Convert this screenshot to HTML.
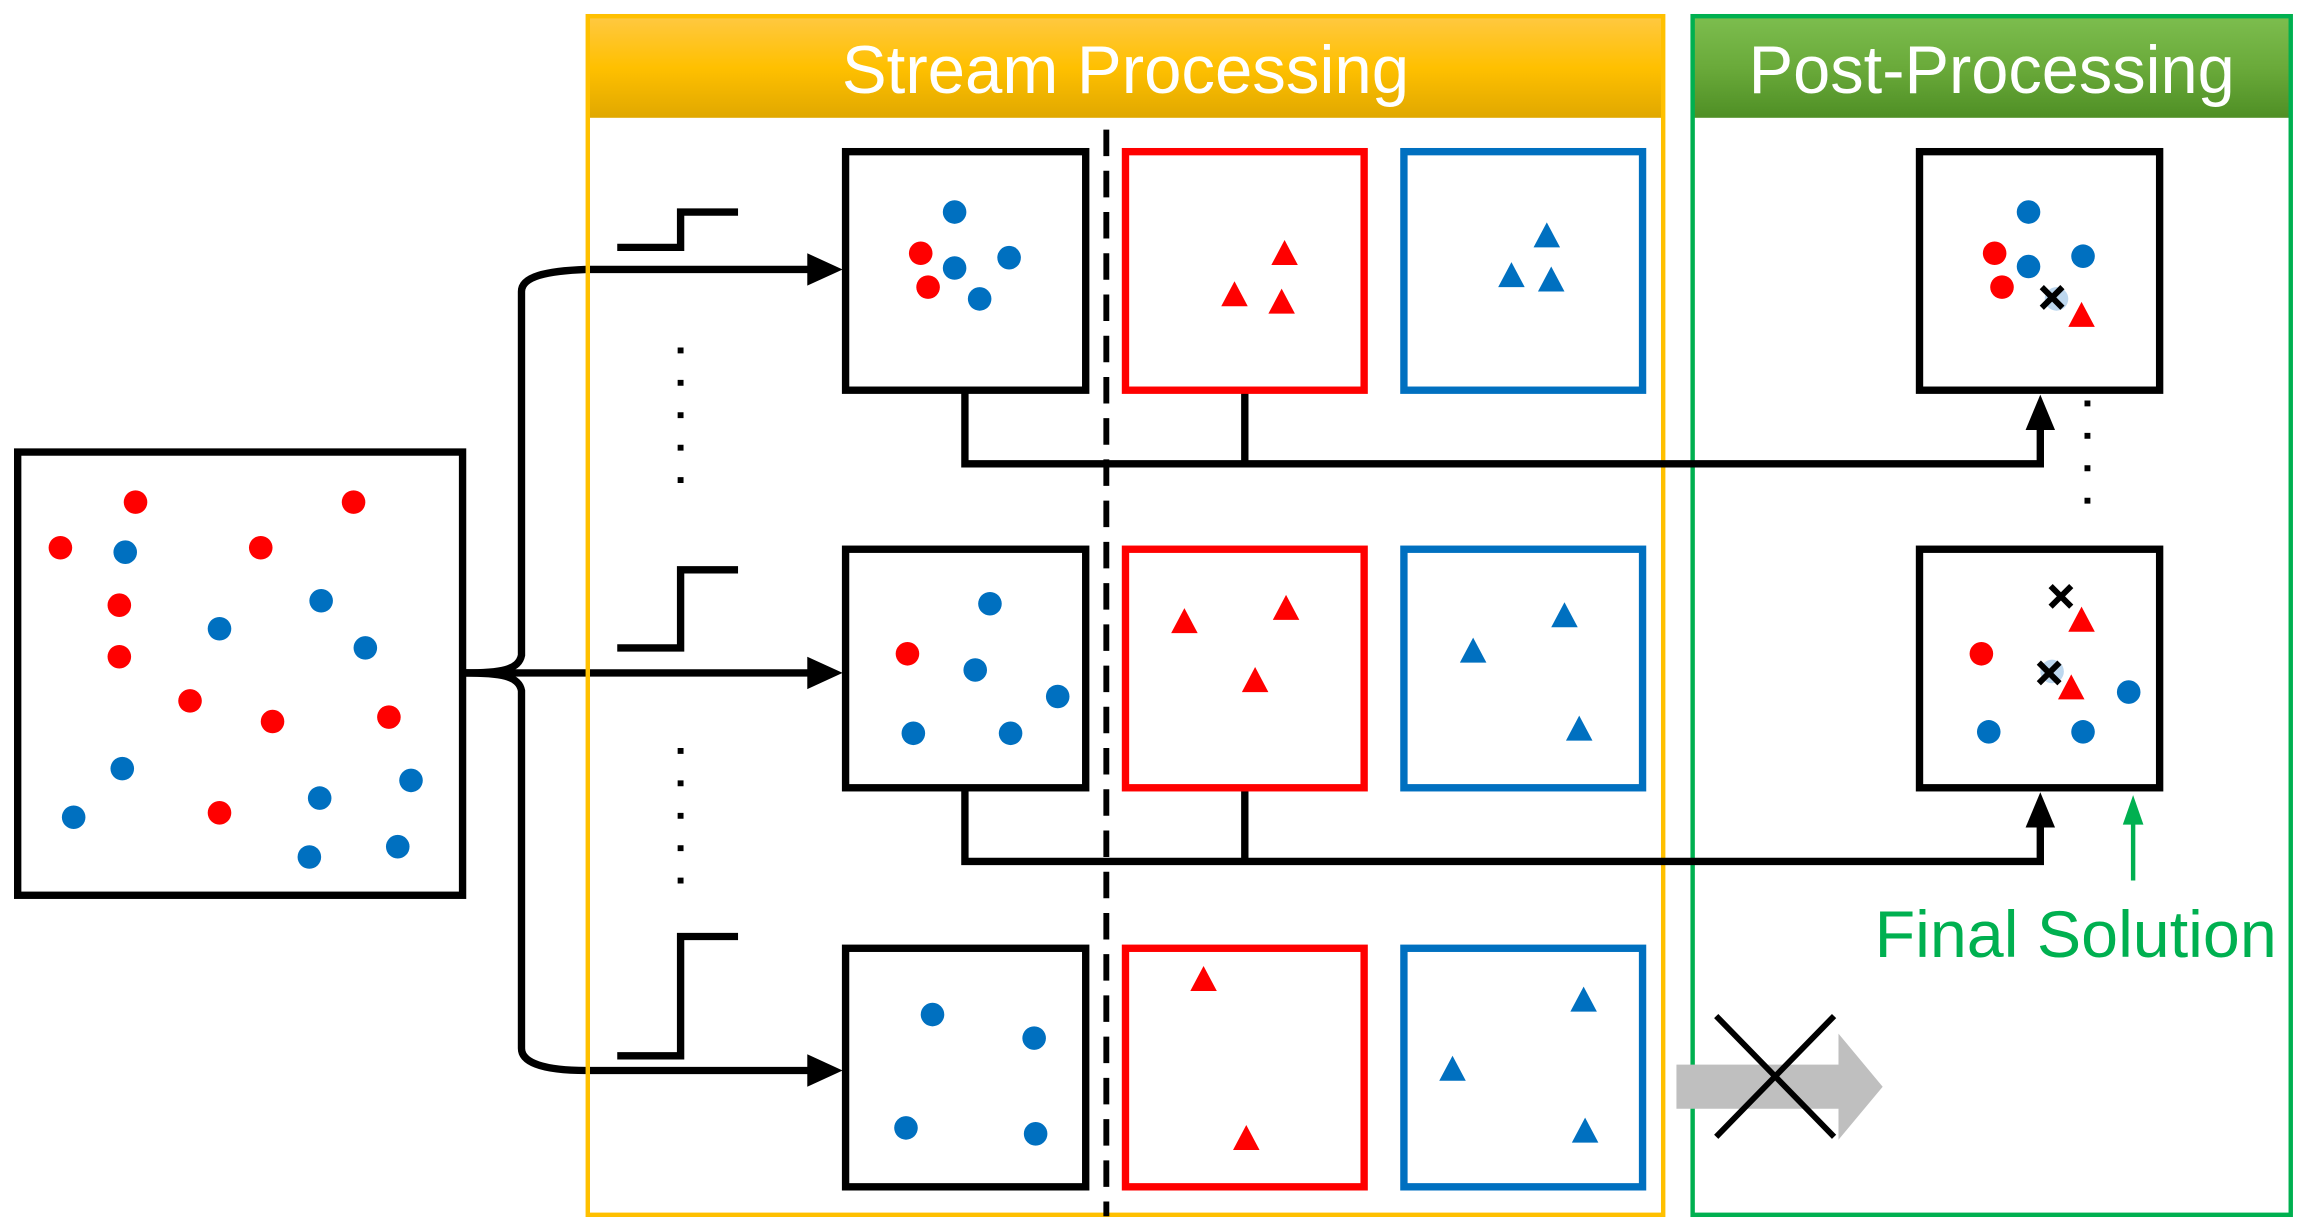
<!DOCTYPE html>
<html><head><meta charset="utf-8"><style>html,body{margin:0;padding:0;background:#fff}svg{display:block}</style></head><body>
<svg width="2304" height="1231" viewBox="0 0 1564 836" preserveAspectRatio="none" xmlns="http://www.w3.org/2000/svg">
<defs>
<linearGradient id="og" x1="0" y1="0" x2="0" y2="1"><stop offset="0" stop-color="#ffc840"/><stop offset="0.5" stop-color="#ffc000"/><stop offset="1" stop-color="#e0a800"/></linearGradient>
<linearGradient id="gg" x1="0" y1="0" x2="0" y2="1"><stop offset="0" stop-color="#7cbd4e"/><stop offset="0.5" stop-color="#6aaa3a"/><stop offset="1" stop-color="#4f8f25"/></linearGradient>
<g id="rt"><polygon points="0,-9 9,8 -9,8" fill="#ff0000"/></g>
<g id="bt"><polygon points="0,-9 9,8 -9,8" fill="#0070c0"/></g>
</defs>
<g fill="none" stroke="#000" stroke-width="5">
<rect x="12" y="307" width="302" height="301"/>
<path d="M315,457 C340,457 352,455 354,445 L354,198 C354,188 370,184 398,183 L555,183"/>
<path d="M315,457 L555,457"/>
<path d="M315,457 C340,457 352,459 354,469 L354,712 C354,722 370,727 398,727 L555,727"/>
</g>
<g fill="#000">
<polygon points="572,183 548,172 548,194"/>
<polygon points="572,457 548,446 548,468"/>
<polygon points="572,727 548,716 548,738"/>
</g>
<rect x="399" y="12" width="730" height="68" fill="url(#og)"/>
<rect x="1149" y="12" width="406" height="68" fill="url(#gg)"/>
<rect x="399" y="11" width="730" height="814" fill="none" stroke="#ffc000" stroke-width="3"/>
<rect x="1149" y="11" width="406" height="814" fill="none" stroke="#00b050" stroke-width="3"/>
<text x="764" y="63" font-family="Liberation Sans, sans-serif" font-size="46" fill="#fff" text-anchor="middle" textLength="385" lengthAdjust="spacingAndGlyphs">Stream Processing</text>
<text x="1352" y="63" font-family="Liberation Sans, sans-serif" font-size="46" fill="#fff" text-anchor="middle" textLength="330" lengthAdjust="spacingAndGlyphs">Post-Processing</text>
<g fill="none" stroke="#000" stroke-width="5">
<path d="M419,168 L462,168 L462,144 L501,144"/>
<path d="M419,440 L462,440 L462,387 L501,387"/>
<path d="M419,717 L462,717 L462,636 L501,636"/>
</g>
<g stroke="#000" stroke-width="4" stroke-dasharray="4,18">
<line x1="462" y1="236" x2="462" y2="330"/>
<line x1="462" y1="508" x2="462" y2="600"/>
<line x1="1417" y1="272" x2="1417" y2="360"/>
</g>
<line x1="751" y1="88" x2="751" y2="826" stroke="#000" stroke-width="4" stroke-dasharray="18,10"/>
<g fill="none" stroke="#000" stroke-width="5">
<path d="M655,266 L655,315 L1385,315 L1385,290"/>
<line x1="845" y1="266" x2="845" y2="315"/>
<path d="M655,536 L655,585 L1385,585 L1385,560"/>
<line x1="845" y1="536" x2="845" y2="585"/>
</g>
<polygon points="1385,268 1375,292 1395,292" fill="#000"/>
<polygon points="1385,538 1375,562 1395,562" fill="#000"/>
<g fill="none" stroke-width="5">
<rect x="574" y="103" width="163" height="162" stroke="#000"/>
<rect x="574" y="373" width="163" height="162" stroke="#000"/>
<rect x="574" y="644" width="163" height="162" stroke="#000"/>
<rect x="764" y="103" width="162" height="162" stroke="#ff0000"/>
<rect x="764" y="373" width="162" height="162" stroke="#ff0000"/>
<rect x="764" y="644" width="162" height="162" stroke="#ff0000"/>
<rect x="953" y="103" width="162" height="162" stroke="#0070c0"/>
<rect x="953" y="373" width="162" height="162" stroke="#0070c0"/>
<rect x="953" y="644" width="162" height="162" stroke="#0070c0"/>
<rect x="1303" y="103" width="163" height="162" stroke="#000"/>
<rect x="1303" y="373" width="163" height="162" stroke="#000"/>
</g>
<g fill="#ff0000">
<circle cx="92" cy="341" r="8"/><circle cx="240" cy="341" r="8"/><circle cx="41" cy="372" r="8"/><circle cx="177" cy="372" r="8"/><circle cx="81" cy="411" r="8"/><circle cx="81" cy="446" r="8"/><circle cx="129" cy="476" r="8"/><circle cx="185" cy="490" r="8"/><circle cx="264" cy="487" r="8"/><circle cx="149" cy="552" r="8"/>
<circle cx="625" cy="172" r="8"/><circle cx="630" cy="195" r="8"/><circle cx="616" cy="444" r="8"/>
<circle cx="1354" cy="172" r="8"/><circle cx="1359" cy="195" r="8"/><circle cx="1345" cy="444" r="8"/>
</g>
<g fill="#0070c0">
<circle cx="85" cy="375" r="8"/><circle cx="218" cy="408" r="8"/><circle cx="149" cy="427" r="8"/><circle cx="248" cy="440" r="8"/><circle cx="83" cy="522" r="8"/><circle cx="217" cy="542" r="8"/><circle cx="279" cy="530" r="8"/><circle cx="50" cy="555" r="8"/><circle cx="210" cy="582" r="8"/><circle cx="270" cy="575" r="8"/>
<circle cx="648" cy="144" r="8"/><circle cx="648" cy="182" r="8"/><circle cx="685" cy="175" r="8"/><circle cx="665" cy="203" r="8"/>
<circle cx="672" cy="410" r="8"/><circle cx="662" cy="455" r="8"/><circle cx="718" cy="473" r="8"/><circle cx="620" cy="498" r="8"/><circle cx="686" cy="498" r="8"/>
<circle cx="633" cy="689" r="8"/><circle cx="702" cy="705" r="8"/><circle cx="615" cy="766" r="8"/><circle cx="703" cy="770" r="8"/>
<circle cx="1377" cy="144" r="8"/><circle cx="1377" cy="181" r="8"/><circle cx="1414" cy="174" r="8"/>
<circle cx="1445" cy="470" r="8"/><circle cx="1350" cy="497" r="8"/><circle cx="1414" cy="497" r="8"/>
</g>
<g>
<use href="#rt" x="872" y="172"/><use href="#rt" x="838" y="200"/><use href="#rt" x="870" y="205"/>
<use href="#rt" x="804" y="422"/><use href="#rt" x="873" y="413"/><use href="#rt" x="852" y="462"/>
<use href="#rt" x="817" y="665"/><use href="#rt" x="846" y="773"/>
<use href="#bt" x="1050" y="160"/><use href="#bt" x="1026" y="187"/><use href="#bt" x="1053" y="190"/>
<use href="#bt" x="1000" y="442"/><use href="#bt" x="1062" y="418"/><use href="#bt" x="1072" y="495"/>
<use href="#bt" x="1075" y="679"/><use href="#bt" x="986" y="726"/><use href="#bt" x="1076" y="768"/>
</g>
<circle cx="1396" cy="203" r="8" fill="#bdd7ee"/>
<use href="#rt" x="1413" y="214"/>
<use href="#rt" x="1413" y="421"/>
<circle cx="1393" cy="456" r="8" fill="#bdd7ee"/>
<use href="#rt" x="1406" y="467"/>
<g stroke="#000" stroke-width="4">
<path d="M1386,195 L1400,209 M1400,195 L1386,209"/>
<path d="M1392,398 L1406,412 M1406,398 L1392,412"/>
<path d="M1384,450 L1398,464 M1398,450 L1384,464"/>
</g>
<line x1="1448" y1="598" x2="1448" y2="558" stroke="#00b050" stroke-width="3"/>
<polygon points="1448,540 1441,560 1455,560" fill="#00b050"/>
<text x="1409" y="650" font-family="Liberation Sans, sans-serif" font-size="45" fill="#00b050" text-anchor="middle" textLength="273" lengthAdjust="spacingAndGlyphs">Final Solution</text>
<polygon points="1138,723 1248,723 1248,702 1278,738 1248,774 1248,753 1138,753" fill="#bfbfbf"/>
<g stroke="#000" stroke-width="4"><line x1="1165" y1="690" x2="1245" y2="772"/><line x1="1245" y1="690" x2="1165" y2="772"/></g>
</svg>
</body></html>
